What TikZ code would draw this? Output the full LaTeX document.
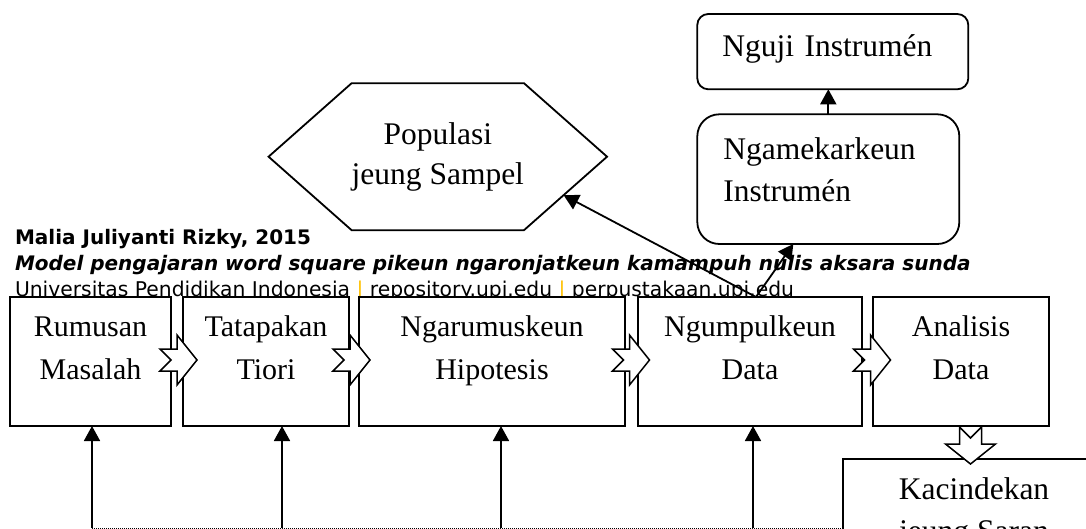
\documentclass[tikz,border=0pt]{standalone}
\usepackage{fontspec}
\setmainfont{Liberation Serif}
\newfontfamily\hdrfont{DejaVu Sans}
\usetikzlibrary{positioning, shapes.symbols, arrows.meta}
\definecolor{barorange}{HTML}{FFC000}
\newcommand{\rowfont}{\fontsize{30pt}{42.5pt}\selectfont}
\newcommand{\topfont}{\fontsize{31.5pt}{42.5pt}\selectfont}

\begin{document}
\begin{tikzpicture}[
    x=1pt, y=-1pt,
    every node/.style={inner sep=0pt, outer sep=0pt},
    hdr/.style={anchor=base west,
        font=\hdrfont\fontsize{20pt}{20pt}\selectfont},
    stepbox/.style={
        draw, fill=white, line width=1.8pt,
        minimum height=129pt, align=center, font=\rowfont,
        text height=82.2pt, text depth=46.8pt
    },
    instbox/.style={
        draw, fill=white, line width=1.8pt,
        align=left, font=\topfont, inner xsep=25pt, anchor=north west
    },
    hexbox/.style={
        draw, fill=white, line width=1.8pt,
        shape=signal, signal to=east and west, signal pointer angle=83,
        minimum width=332pt, minimum height=147pt,
        align=center, font=\fontsize{31.5pt}{40pt}\selectfont
    },
    arrow/.style={line width=1.8pt, -{Triangle[length=15pt, width=16pt]}},
    dotline/.style={line width=1pt, dash pattern=on 1pt off 1pt},
    blockarrow/.pic={
        \draw[line width=1.5pt, fill=white]
            (-18.5,11) -- (-1.5,11) -- (-1.5,25) -- (18.5,0) --
            (-1.5,-25) -- (-1.5,-11) -- (-18.5,-11) -- (-7.5,0) -- cycle;
    }
]

\useasboundingbox (0,0) rectangle (1086,529);
\clip (0,0) rectangle (1086,529);

% ── HEADER ─────────────────────────────────────────────────────
\node[hdr] (author) at (15,245) {\bfseries Malia Juliyanti Rizky, 2015};
\node[hdr] (title) at (15,270)
    {\bfseries\itshape Model pengajaran word square pikeun ngaronjatkeun kamampuh nulis aksara sunda};
\node[hdr, font=\hdrfont\fontsize{20.3pt}{20pt}\selectfont] (univ) at (15,296)
    {Universitas Pendidikan Indonesia \textcolor{barorange}{|} repository.upi.edu \textcolor{barorange}{|} perpustakaan.upi.edu};

% ── ROW OF STEPS ───────────────────────────────────────────────
\node[stepbox, minimum width=161pt, anchor=north west] (rumusan) at (10,297)
    {Rumusan\\Masalah};
\node[stepbox, minimum width=166pt, right=12pt of rumusan] (tatapakan)
    {Tatapakan\\Tiori};
\node[stepbox, minimum width=266pt, right=10pt of tatapakan] (hipotesis)
    {Ngarumuskeun\\Hipotesis};
\node[stepbox, minimum width=224pt, right=13pt of hipotesis] (ngumpul)
    {Ngumpulkeun\\Data};
\node[stepbox, minimum width=176pt, right=11pt of ngumpul] (analisis)
    {Analisis\\Data};

\node[stepbox, font=\topfont, minimum width=262pt, anchor=north west,
      text height=82.5pt, text depth=46.5pt] (kacin) at (843,459)
    {Kacindekan\\jeung Saran};

% ── POPULASI & INSTRUMEN ───────────────────────────────────────
\node[hexbox] (pop) at (437.8,156.7) {Populasi\\jeung Sampel};

\node[instbox, rounded corners=11pt, text width=221pt,
      text height=42.7pt, text depth=32.6pt] (nguji) at (697.3,14)
    {Nguji Instrumén};
\node[instbox, rounded corners=22pt, inner xsep=26pt, text width=210pt,
      text height=45pt, text depth=84.7pt] (ngamek) at (697.3,114.3)
    {Ngamekarkeun\\Instrumén};

% ── ARROWS ─────────────────────────────────────────────────────
\coordinate (src) at ([xshift=6pt]ngumpul.north);
\draw[arrow] (src) -- (pop.-17);
\draw[arrow] (src) -- ([xshift=-35pt]ngamek.south);
\draw[arrow] (ngamek.north) -- (ngamek.north |- nguji.south);

% feedback line along the bottom
\coordinate (f1) at (92,528);
\coordinate (f2) at (282,528);
\coordinate (f3) at (501,528);
\coordinate (f4) at (753,528);
\draw[dotline] (f1) -- (f1 -| kacin.west);
\draw[arrow] (f1) -- (f1 |- rumusan.south);
\draw[arrow] (f2) -- (f2 |- tatapakan.south);
\draw[arrow] (f3) -- (f3 |- hipotesis.south);
\draw[arrow] (f4) -- (f4 |- ngumpul.south);

% block arrows between the steps
\pic at (178.5,360) {blockarrow};
\pic at (351.5,360) {blockarrow};
\pic at (631,360) {blockarrow};
\pic at (872,360) {blockarrow};
\pic[rotate=-90] at (970.5,445.5) {blockarrow};

\end{tikzpicture}
\end{document}
